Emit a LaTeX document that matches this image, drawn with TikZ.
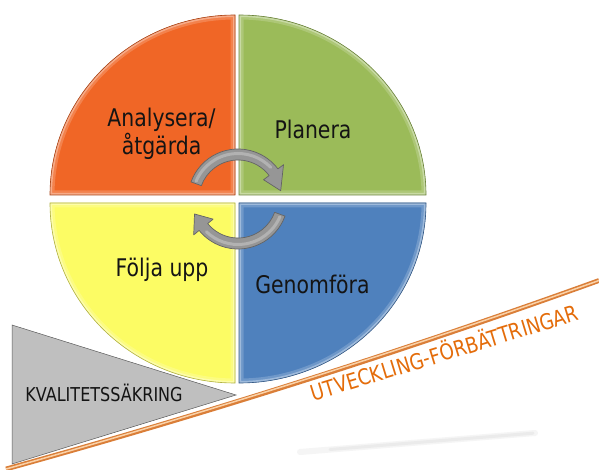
\documentclass[tikz,border=0pt]{standalone}
\usepackage{fontspec}
\setmainfont{DejaVu Sans}[FakeStretch=0.84]
\usetikzlibrary{calc}
\definecolor{qorange}{RGB}{240,102,38}
\definecolor{qgreen}{RGB}{155,187,89}
\definecolor{qyellow}{RGB}{252,252,100}
\definecolor{qblue}{RGB}{79,129,189}
\definecolor{trigray}{RGB}{191,191,191}
\definecolor{lineorange}{RGB}{218,126,56}
\definecolor{linelight}{RGB}{250,210,168}
\definecolor{txtorange}{RGB}{228,108,10}
\definecolor{arrowgray}{RGB}{150,150,150}
\definecolor{arrowlight}{RGB}{178,178,178}
\definecolor{arrowdark}{RGB}{100,100,100}
\newcommand\drawquad[2]{%
  \begin{scope}
    \clip #2;
    \fill[#1] #2;
    \draw[line width=9, #1!82!white] #2;
    \draw[line width=4, #1!55!white] #2;
  \end{scope}
  \draw[#1!70!black, line width=0.6] #2;}
\begin{document}
\begin{tikzpicture}[x=1pt,y=-1pt,
  lbl/.style={anchor=base, inner sep=0, text=black!92, font=\fontsize{24.3}{28}\selectfont},
  smalllbl/.style={anchor=base, inner sep=0, text=black!92, font=\fontsize{19.1}{22}\selectfont},
  orangelbl/.style={anchor=base, inner sep=0, text=txtorange, font=\fontsize{21.8}{25}\selectfont},
  cyclearrow/.style={fill=arrowgray, draw=arrowdark, line width=0.7, line join=round},
  arrowshine/.style={draw=arrowlight, line width=3, line cap=round}]
\useasboundingbox (0,0) rectangle (599,470);
\fill[white] (0,0) rectangle (599,470);

% shadow streak
\draw[line width=6, black!4, line cap=round] (300,452) -- (535,433);
\draw[line width=3, black!8, line cap=round] (330,449.5) -- (533,433.2);

% gray triangle
\filldraw[fill=trigray, draw=gray!70!black, line width=0.5] (12,325) -- (12,464) -- (236,395) -- cycle;

% quadrants
\drawquad{qorange}{(235,195) -- (50,195) arc[start angle=180,end angle=270,x radius=185,y radius=180] -- cycle}
\drawquad{qgreen}{(239,195) -- (239,15) arc[start angle=270,end angle=360,x radius=187,y radius=180] -- cycle}
\drawquad{qblue}{(239,203) -- (426,203) arc[start angle=0,end angle=90,x radius=187,y radius=180] -- cycle}
\drawquad{qyellow}{(235,203) -- (235,383) arc[start angle=90,end angle=180,x radius=185,y radius=180] -- cycle}

% cycle arrows
\coordinate (cc) at (238,199);
\path[cyclearrow] ($(cc)+(200:50)$) arc[start angle=200,end angle=323,radius=50]
  -- ($(cc)+(323:57)$) -- ($(cc)+(349:43.5)$) -- ($(cc)+(323:32)$) -- ($(cc)+(323:39)$)
  arc[start angle=323,end angle=200,radius=39] -- cycle;
\draw[arrowshine] ($(cc)+(203:45.5)$) arc[start angle=203,end angle=316,radius=45.5];
\path[cyclearrow] ($(cc)+(20:50)$) arc[start angle=20,end angle=141,radius=50]
  -- ($(cc)+(141:57)$) -- ($(cc)+(161:46)$) -- ($(cc)+(141:32)$) -- ($(cc)+(141:39)$)
  arc[start angle=141,end angle=20,radius=39] -- cycle;
\draw[arrowshine] ($(cc)+(23:45.5)$) arc[start angle=23,end angle=134,radius=45.5];

% labels
\node[lbl] (ana1) at (161.5,127) {Analysera/};
\node[lbl] (ana2) at (161.5,155) {åtgärda};
\node[lbl] (plan) at (313,139) {Planera};
\node[lbl] (folj) at (162,276) {Följa upp};
\node[lbl] (gen) at (312.5,293) {Genomföra};
\node[smalllbl] (kval) at (104,401.5) {KVALITETSSÄKRING};

% development line
\coordinate (ls) at (6,469);
\coordinate (le) at (599,280.5);
\draw[line width=4.8, lineorange] (ls) .. controls (205,414) and (401,352) .. (le);
\draw[line width=1.5, linelight] (ls) .. controls (205,413) and (401,351) .. (le);
\node[orangelbl, rotate=17] (utv) at (447,360.5) {UTVECKLING-FÖRBÄTTRINGAR};
\end{tikzpicture}
\end{document}
